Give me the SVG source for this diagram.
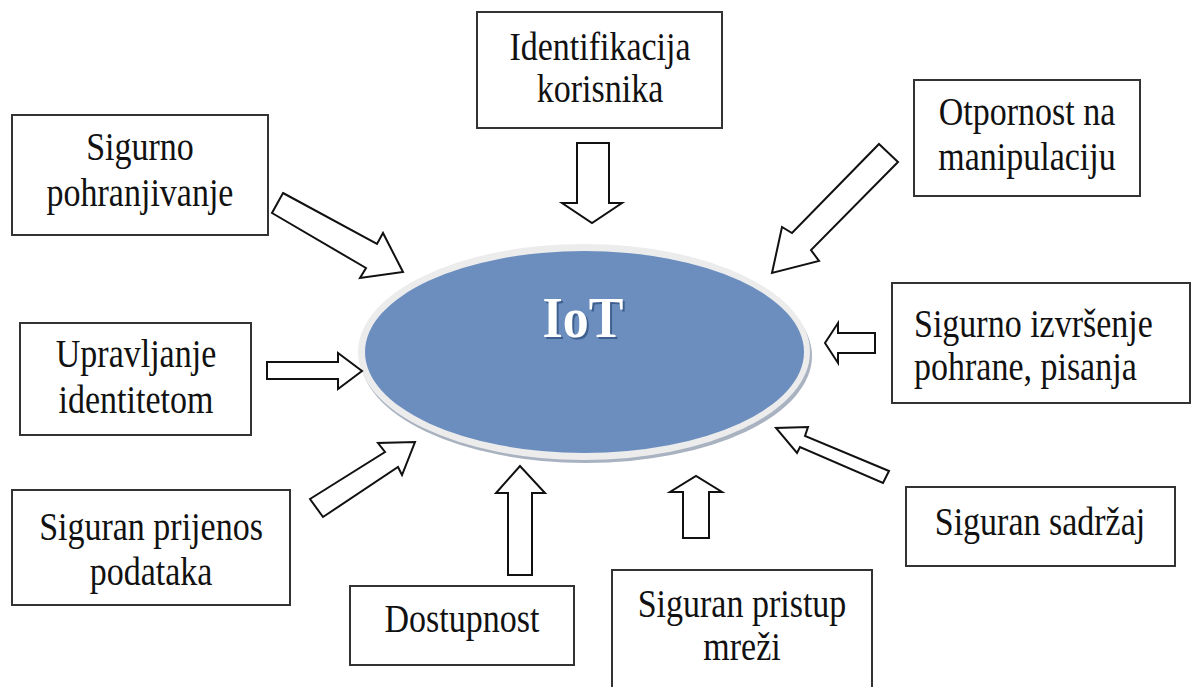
<svg xmlns="http://www.w3.org/2000/svg" width="1192" height="687" viewBox="0 0 1192 687">
<style>
.box{fill:#fff;stroke:#333;stroke-width:2}
.t{font-family:"Liberation Serif","Times New Roman",serif;font-size:34px;fill:#111;text-anchor:middle}
.tl{text-anchor:start}
.arr{fill:#fff;stroke:#111;stroke-width:2;stroke-linejoin:miter}
.iot{font-family:"Liberation Serif","Times New Roman",serif;font-size:52px;font-weight:bold;text-anchor:middle}
</style>
<rect width="1192" height="687" fill="#fff"/>
<g id="iot">
<ellipse cx="586" cy="356" rx="226" ry="107" fill="#a9b2c0"/>
<ellipse cx="584" cy="352" rx="226" ry="108" fill="#ececec"/>
<ellipse cx="584.5" cy="352" rx="219.5" ry="101" fill="#6b8ebf"/>
<text class="iot" transform="translate(585,339) scale(1,1.08)" fill="#3f5f8f">IoT</text>
<text class="iot" transform="translate(583,337) scale(1,1.08)" fill="#fff">IoT</text>
</g>
<g id="connectors">
<polygon class="arr" points="577,143 609,143 609,203 622,203 592,223 562,203 577,203"/>
<polygon class="arr" points="283,193 377,244 383,233 403,272 360,278 366,268 272,213"/>
<polygon class="arr" points="879,144 898,162 811,250 819,261 772,273 782,227 792,233"/>
<polygon class="arr" points="267,362 338,362 338,353 362,371 338,389 338,379 267,379"/>
<polygon class="arr" points="875,333 838,333 838,323 825,343 838,363 838,353 875,353"/>
<polygon class="arr" points="310,499 385,452 378,443 415,442 402,475 398,467 323,517"/>
<polygon class="arr" points="508,575 508,493 496,493 520,466 545,493 532,493 532,575"/>
<polygon class="arr" points="683,538 683,492 670,492 696,476 722,492 709,492 709,538"/>
<polygon class="arr" points="889,471 805,436 808,427 776,428 797,453 800,447 883,483"/>
</g>
<g id="n-identifikacija">
<rect class="box" x="477" y="12" width="245" height="116"/>
<text class="t" transform="translate(600,60) scale(1,1.15)">Identifikacija</text>
<text class="t" transform="translate(600,102) scale(1,1.15)">korisnika</text>
</g>
<g id="n-otpornost">
<rect class="box" x="914" y="80" width="226" height="116"/>
<text class="t" transform="translate(1027,125) scale(1,1.15)">Otpornost na</text>
<text class="t" transform="translate(1027,170) scale(1,1.15)">manipulaciju</text>
</g>
<g id="n-pohranjivanje">
<rect class="box" x="12" y="115" width="256" height="120"/>
<text class="t" transform="translate(140,160) scale(1,1.15)">Sigurno</text>
<text class="t" transform="translate(140,206) scale(1,1.15)">pohranjivanje</text>
</g>
<g id="n-upravljanje">
<rect class="box" x="20" y="323" width="231" height="112"/>
<text class="t" transform="translate(136,367) scale(1,1.15)">Upravljanje</text>
<text class="t" transform="translate(136,413) scale(1,1.15)">identitetom</text>
</g>
<g id="n-izvrsenje">
<rect class="box" x="892" y="283" width="298" height="120"/>
<text class="t tl" transform="translate(914,337) scale(1,1.15)">Sigurno izvršenje</text>
<text class="t tl" transform="translate(914,380) scale(1,1.15)">pohrane, pisanja</text>
</g>
<g id="n-prijenos">
<rect class="box" x="12" y="490" width="278" height="115"/>
<text class="t" transform="translate(151,540) scale(1,1.15)">Siguran prijenos</text>
<text class="t" transform="translate(151,585) scale(1,1.15)">podataka</text>
</g>
<g id="n-dostupnost">
<rect class="box" x="350" y="586" width="224" height="79"/>
<text class="t" transform="translate(462,632) scale(1,1.15)">Dostupnost</text>
</g>
<g id="n-pristup">
<rect class="box" x="612" y="570" width="260" height="130"/>
<text class="t" transform="translate(742,617) scale(1,1.15)">Siguran pristup</text>
<text class="t" transform="translate(742,660) scale(1,1.15)">mreži</text>
</g>
<g id="n-sadrzaj">
<rect class="box" x="906" y="487" width="269" height="79"/>
<text class="t" transform="translate(1040,535) scale(1,1.15)">Siguran sadržaj</text>
</g>
</svg>
